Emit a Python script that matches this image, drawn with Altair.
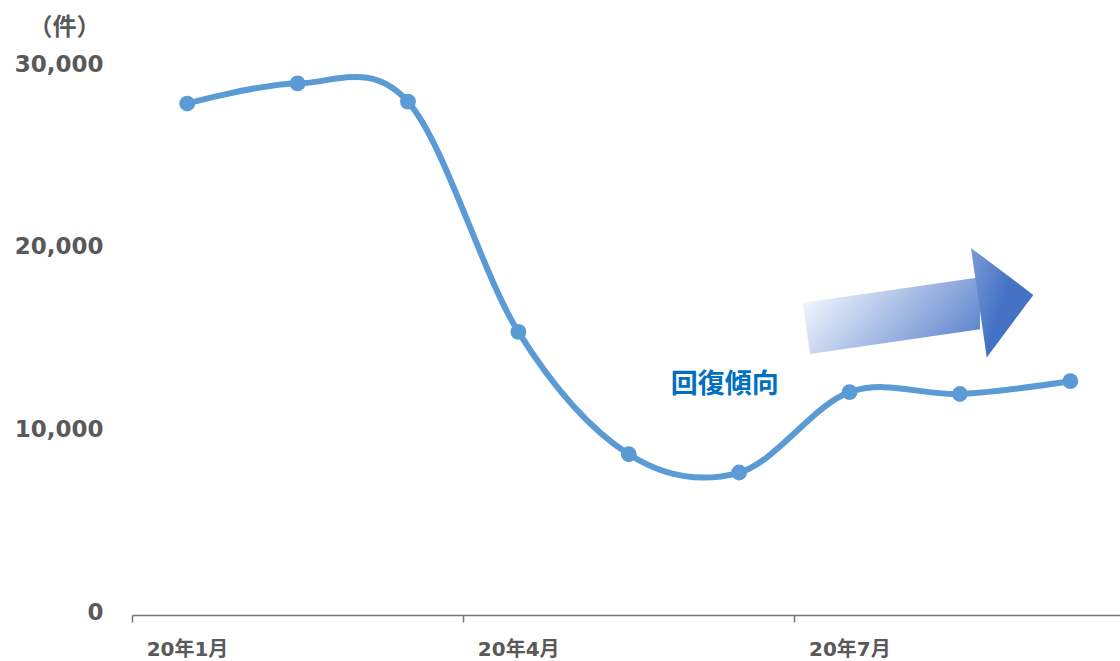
import altair as alt
import pandas as pd

# ---- data ----
months = ["20年1月", "20年2月", "20年3月", "20年4月", "20年5月", "20年6月", "20年7月", "20年8月", "20年9月"]
counts = [28000, 29100, 28100, 15500, 8800, 7800, 12200, 12100, 12800]
tick_positions = [-0.5, 2.5, 5.5]
tick_labels = ["20年1月", "20年4月", "20年7月"]
y_ticks = [0, 10000, 20000, 30000]
unit_label = "（件）"

note_text = ["回復傾向"]
note_x = [4.87]
note_y = [12600]

# arrow outline in data units (shaft and head)
shaft_x = [5.576, 5.642, 7.182]
shaft_top = [17100, 17150, 18490]
shaft_bottom = [17100, 14290, 15640]
head_x = [7.100, 7.243, 7.665]
head_top = [20090, 19450, 17520]
head_bottom = [20090, 14090, 17520]

df = pd.DataFrame({"idx": list(range(len(months))), "month": months, "count": counts})
df_note = pd.DataFrame({"x": note_x, "y": note_y, "t": note_text})
df_shaft = pd.DataFrame({"x": shaft_x, "y": shaft_top, "y2": shaft_bottom})
df_head = pd.DataFrame({"x": head_x, "y": head_top, "y2": head_bottom})

GRAY = "#595959"
LINE = "#5B9BD5"
FONT = "DejaVu Sans, Noto Sans CJK JP"

label_expr = " : ".join(
    f"datum.value == {p} ? '{l}'" for p, l in zip(tick_positions, tick_labels)
) + " : ''"

x_scale = alt.Scale(domain=[-0.5, 8.45], nice=False, zero=False)
y_scale = alt.Scale(domain=[0, 30000], nice=False)

x_axis = alt.Axis(
    values=tick_positions, labelExpr=label_expr, labelFlush=False, labelOffset=55,
    labelAlign="center", labelFont=FONT, labelFontSize=20, labelFontWeight="bold",
    labelColor=GRAY, labelPadding=17, domainColor="#767676", domainWidth=1.5,
    tickColor="#767676", tickWidth=1.5, tickSize=7, grid=False, title=None,
)
y_axis = alt.Axis(
    values=y_ticks, labelExpr="format(datum.value, ',')", labelFont=FONT,
    labelFontSize=23, labelFontWeight="bold",
    labelColor=GRAY, labelPadding=29, labelOffset=-3, domain=False, ticks=False, grid=False,
    title=unit_label, titleAngle=0, titleX=-68, titleY=-40, titleAlign="center",
    titleBaseline="middle", titleFont="Noto Sans CJK JP", titleFontSize=24,
    titleFontWeight="bold", titleColor=GRAY,
)

base = alt.Chart(df)

line = base.mark_line(interpolate="cardinal", strokeWidth=6, color=LINE).encode(
    x=alt.X("idx:Q", scale=x_scale, axis=x_axis),
    y=alt.Y("count:Q", scale=y_scale, axis=y_axis),
)
points = base.mark_circle(size=250, opacity=1, color=LINE).encode(
    x=alt.X("idx:Q", scale=x_scale),
    y=alt.Y("count:Q", scale=y_scale),
)

shaft = alt.Chart(df_shaft).mark_area(
    color=alt.Gradient(
        gradient="linear", x1=0, y1=0.3, x2=1, y2=0.7,
        stops=[alt.GradientStop(color="#F3F6FC", offset=0),
               alt.GradientStop(color="#5F86CF", offset=1)],
    )
).encode(
    x=alt.X("x:Q", scale=x_scale), y=alt.Y("y:Q", scale=y_scale), y2="y2:Q"
)
head = alt.Chart(df_head).mark_area(
    color=alt.Gradient(
        gradient="linear", x1=0, y1=0, x2=1, y2=0.6,
        stops=[alt.GradientStop(color="#7C9BD8", offset=0),
               alt.GradientStop(color="#4472C4", offset=0.6),
               alt.GradientStop(color="#4472C4", offset=1)],
    )
).encode(
    x=alt.X("x:Q", scale=x_scale), y=alt.Y("y:Q", scale=y_scale), y2="y2:Q"
)

note = alt.Chart(df_note).mark_text(
    font="Noto Sans CJK JP", fontSize=27, fontWeight="bold", color="#0070C0",
    align="center", baseline="middle",
).encode(
    x=alt.X("x:Q", scale=x_scale), y=alt.Y("y:Q", scale=y_scale), text="t:N"
)

chart = alt.layer(shaft, head, line, points, note).properties(
    width=988, height=548,
    padding={"left": 132, "top": 67, "right": 0, "bottom": 46},
    autosize=alt.AutoSizeParams(type="none"),
    background="white",
).configure_view(stroke=None)

chart.save("out.html", embed_options={"renderer": "svg", "actions": False})
